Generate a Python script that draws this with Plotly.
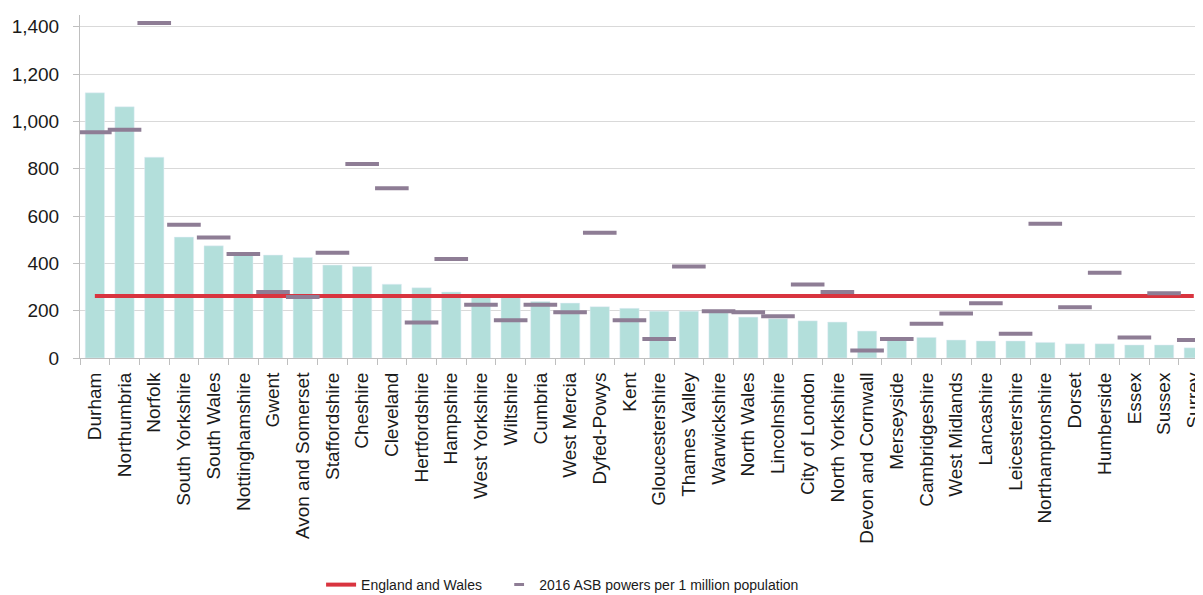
import plotly.graph_objects as go

forces = ["Durham", "Northumbria", "Norfolk", "South Yorkshire", "South Wales",
          "Nottinghamshire", "Gwent", "Avon and Somerset", "Staffordshire", "Cheshire",
          "Cleveland", "Hertfordshire", "Hampshire", "West Yorkshire", "Wiltshire",
          "Cumbria", "West Mercia", "Dyfed-Powys", "Kent", "Gloucestershire",
          "Thames Valley", "Warwickshire", "North Wales", "Lincolnshire", "City of London",
          "North Yorkshire", "Devon and Cornwall", "Merseyside", "Cambridgeshire",
          "West Midlands", "Lancashire", "Leicestershire", "Northamptonshire", "Dorset",
          "Humberside", "Essex", "Sussex", "Surrey"]

# bars (earlier year rate per 1 million population)
bar_values = [1121, 1062, 849, 511, 474, 436, 435, 425, 393, 387,
              312, 297, 279, 258, 256, 239, 232, 217, 210, 198,
              198, 198, 173, 166, 157, 152, 114, 78, 87, 76,
              72, 72, 66, 60, 60, 55, 55, 43]

# 2016 ASB powers per 1 million population
asb_2016 = [954, 965, 1416, 563, 509, 440, 279, 258, 445, 820,
            718, 150, 418, 225, 160, 225, 193, 530, 160, 80,
            387, 198, 193, 177, 311, 279, 32, 80, 145, 188,
            231, 103, 568, 215, 360, 87, 274, 76]

england_wales = 262

font = "Liberation Sans, Arial, sans-serif"
dash_colour = "#8e7d95"

fig = go.Figure()

fig.add_trace(go.Bar(
    x=forces, y=bar_values, marker_color="#b3dfdb", width=0.65,
    showlegend=False, hoverinfo="x+y"))

fig.add_trace(go.Scatter(
    x=forces, y=[england_wales] * len(forces), mode="lines",
    name="England and Wales", line=dict(color="#d9343f", width=4),
    legend="legend"))

fig.add_trace(go.Scatter(
    x=forces, y=asb_2016, mode="markers", showlegend=False,
    name="2016 ASB powers per 1 million population",
    marker=dict(symbol="line-ew", size=24,
                line=dict(color=dash_colour, width=4))))

# legend entry only (smaller dash, like the original key)
fig.add_trace(go.Scatter(
    x=[None], y=[None], mode="markers",
    name="2016 ASB powers per 1 million population",
    marker=dict(symbol="line-ew", size=7,
                line=dict(color=dash_colour, width=3)),
    legend="legend2"))

legend_style = dict(orientation="h", xref="container", yref="container",
                    xanchor="left", y=0.017, yanchor="middle",
                    font=dict(family=font, size=14, color="#1a1a1a"),
                    itemwidth=30, bgcolor="rgba(0,0,0,0)")

# page body has an 8px margin, so the figure is a bit smaller than the window
fig.update_layout(
    width=1195, height=587,
    margin=dict(l=72, r=0, t=7, b=237, autoexpand=False),
    plot_bgcolor="white", paper_bgcolor="white",
    font=dict(family=font, size=19, color="#1a1a1a"),
    legend=dict(x=0.262, **legend_style),
    legend2=dict(x=0.411, **legend_style),
)

fig.update_xaxes(
    range=[-0.5, 37.31], tickangle=-90, tickson="boundaries",
    ticks="outside", ticklen=6, tickcolor="#bfbfbf",
    showline=True, linecolor="#bfbfbf", linewidth=1,
    showgrid=False, ticklabelstandoff=6, automargin=False,
    ticklabeloverflow="allow")

fig.update_yaxes(
    range=[0, 1450], tickvals=[0, 200, 400, 600, 800, 1000, 1200, 1400],
    tickformat=",", ticks="outside", ticklen=6, tickcolor="#bfbfbf",
    showline=True, linecolor="#bfbfbf", linewidth=1,
    showgrid=True, gridcolor="#d9d9d9", gridwidth=1,
    zeroline=False, ticklabelstandoff=10, automargin=False)

fig.write_html("out.html")
